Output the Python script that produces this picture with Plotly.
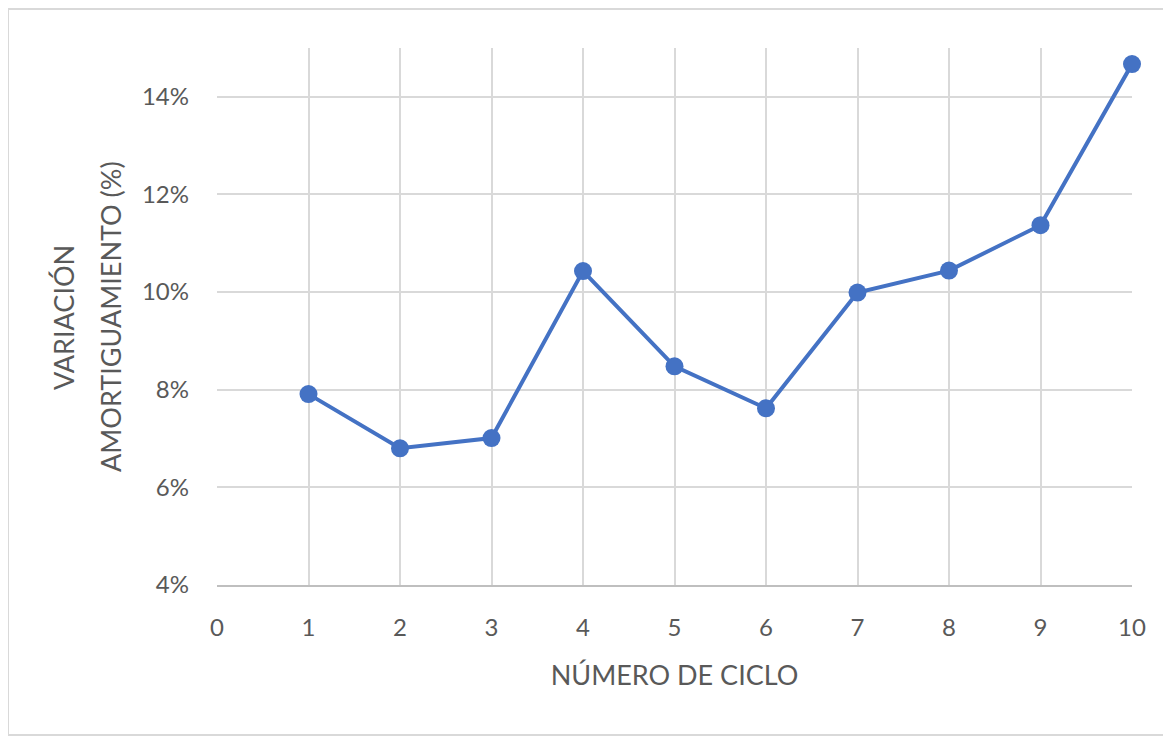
import plotly.graph_objects as go

ciclos = [1, 2, 3, 4, 5, 6, 7, 8, 9, 10]
variacion = [0.0791, 0.0680, 0.0701, 0.1043, 0.0848, 0.0762, 0.0999, 0.1044, 0.1137, 0.1467]
x_ticks = [0, 1, 2, 3, 4, 5, 6, 7, 8, 9, 10]
y_ticks = [0.04, 0.06, 0.08, 0.10, 0.12, 0.14]
y_ticklabels = ["4%", "6%", "8%", "10%", "12%", "14%"]

FONT = "Lato"
TXT = "#595959"
GRID = "#D9D9D9"
BLUE = "#4472C4"

# page body has an 8px default margin; work in figure coordinates
OFF = 8
W, H = 1171 - OFF, 740 - OFF
L, T = 217 - OFF, 48 - OFF
R = W - (1132 - OFF)
B = H - (585 - OFF)
pw, ph = W - L - R, H - T - B

def px_x(p):
    return (p - OFF - L) / pw

def px_y(p):
    return (H - B - (p - OFF)) / ph

fig = go.Figure()
fig.add_trace(go.Scatter(
    x=ciclos, y=variacion, mode="lines+markers",
    line=dict(color=BLUE, width=4),
    marker=dict(color=BLUE, size=18),
    cliponaxis=False,
    showlegend=False, hoverinfo="skip",
))

fig.update_layout(
    width=W, height=H,
    margin=dict(l=L, r=R, t=T, b=B),
    paper_bgcolor="white", plot_bgcolor="white",
    font=dict(family=FONT, color=TXT, size=24),
    xaxis=dict(
        range=[0, 10], tickvals=x_ticks, ticktext=[str(v) for v in x_ticks],
        showgrid=True, gridcolor=GRID, gridwidth=2,
        showline=True, linecolor="#BFBFBF", linewidth=2,
        zeroline=False, ticks="", ticklabelstandoff=20,
        tickfont=dict(size=24, color=TXT),
        title=dict(text="NÚMERO DE CICLO", font=dict(size=27, color=TXT), standoff=26),
    ),
    yaxis=dict(
        range=[0.04, 0.15], tickvals=y_ticks, ticktext=y_ticklabels,
        showgrid=True, gridcolor=GRID, gridwidth=2,
        showline=False, zeroline=False, ticks="", ticklabelstandoff=27,
        tickfont=dict(size=24, color=TXT),
    ),
)

# y-axis title as two rotated lines
fig.add_annotation(text="VARIACIÓN", xref="paper", yref="paper",
                   x=px_x(63), y=px_y(318), textangle=-90, showarrow=False,
                   font=dict(size=27, color=TXT, family=FONT),
                   xanchor="center", yanchor="middle")
fig.add_annotation(text="AMORTIGUAMIENTO (%)", xref="paper", yref="paper",
                   x=px_x(110), y=px_y(317), textangle=-90, showarrow=False,
                   font=dict(size=27, color=TXT, family=FONT),
                   xanchor="center", yanchor="middle")

# chart frame
fig.add_shape(type="rect", xref="paper", yref="paper",
              x0=px_x(8), x1=px_x(1185), y0=px_y(735), y1=px_y(9),
              line=dict(color=GRID, width=2), fillcolor="rgba(0,0,0,0)", layer="below")

fig.write_html("out.html")
